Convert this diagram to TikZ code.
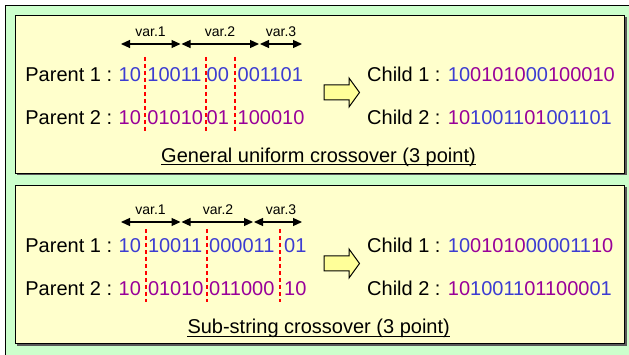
\documentclass[tikz,border=0pt]{standalone}
\usepackage{fontspec}
\setmainfont{Liberation Sans}
\usetikzlibrary{arrows.meta}
\definecolor{bgreen}{HTML}{CCFFCC}
\definecolor{byellow}{HTML}{FFFFCC}
\definecolor{arrowyellow}{HTML}{FFFF99}
\definecolor{pblue}{HTML}{3C3CD2}
\definecolor{ppurple}{HTML}{990099}
\definecolor{cutred}{HTML}{FF0000}
\begin{document}
\begin{tikzpicture}[x=1pt,y=-1pt,
  txt/.style={inner sep=0pt, anchor=base west, font=\fontsize{20}{24}\selectfont},
  bitsa/.style={txt, text=pblue},
  bitsb/.style={txt, text=ppurple},
  varlbl/.style={inner sep=0pt, anchor=base, font=\fontsize{14}{16}\selectfont},
  vararrow/.style={line width=1.2pt, {Triangle[length=9pt,width=8pt]}-{Triangle[length=9pt,width=8pt]}},
  cutline/.style={cutred, line width=2pt, dash pattern=on 4pt off 3pt},
  panel/.style={draw=black, line width=1.3pt, fill=byellow},
  panelshadow/.style={fill=black!65},
  blockarrow/.style={draw=black, line width=1pt, fill=arrowyellow, line join=miter},
  uline/.style={line width=1.2pt}]
\useasboundingbox (0,0) rectangle (629,355);
% outer background
\fill[bgreen] (5,5) rectangle (629,355);
\draw[line width=1.2pt] (5.6,355) -- (5.6,5.6) -- (629,5.6);

% ---------- top panel ----------
\fill[panelshadow] (17,17) rectangle (626.5,175.5);
\draw[panel] (15.5,15.5) rectangle (624.8,173.8);

\node[varlbl] (tv1) at (150.5,37) {var.1};
\node[varlbl] (tv2) at (220,37) {var.2};
\node[varlbl] (tv3) at (281,37) {var.3};
\coordinate (ta0) at (121,44);
\coordinate (ta1) at (180.5,44);
\coordinate (ta2) at (181.5,44);
\coordinate (ta3) at (259,44);
\coordinate (ta4) at (260,44);
\coordinate (ta5) at (302,44);
\draw[vararrow] (ta0) -- (ta1);
\draw[vararrow] (ta2) -- (ta3);
\draw[vararrow] (ta4) -- (ta5);

\node[txt] (tp1) at (25.2,81.5) {Parent 1 :};
\node[bitsa] (tp1a) at (118.5,81.5) {10};
\node[bitsa] (tp1b) at (147.2,81.5) {10011};
\node[bitsa] (tp1c) at (206.5,81.5) {00};
\node[bitsa] (tp1d) at (237.5,81.5) {001101};
\node[txt] (tp2) at (25.2,124.5) {Parent 2 :};
\node[bitsb] (tp2a) at (118.5,124.5) {10};
\node[bitsb] (tp2b) at (147.2,124.5) {01010};
\node[bitsb] (tp2c) at (206.5,124.5) {01};
\node[bitsb] (tp2d) at (237.5,124.5) {100010};

\draw[cutline] (145,57) -- (145,131);
\draw[cutline] (206,57) -- (206,131);
\draw[cutline] (235,57) -- (235,131);

\draw[blockarrow] (324,85) -- (349,85) -- (349,78) -- (359.5,92.5) -- (349,107) -- (349,100) -- (324,100) -- cycle;

\node[txt] (tc1) at (367,81.5) {Child 1 : \textcolor{pblue}{10}\textcolor{ppurple}{01010}\textcolor{pblue}{00}\textcolor{ppurple}{100010}};
\node[txt] (tc2) at (367,124.5) {Child 2 : \textcolor{ppurple}{10}\textcolor{pblue}{10011}\textcolor{ppurple}{01}\textcolor{pblue}{001101}};

\node[txt] (tt) at (161,162.5) {General uniform crossover (3 point)};
\draw[uline] ([yshift=-2pt]tt.base west) -- ([yshift=-2pt]tt.base east);

% ---------- bottom panel ----------
\fill[panelshadow] (17,187.5) rectangle (626.5,345.5);
\draw[panel] (15.5,185.8) rectangle (624.8,343.8);

\node[varlbl] (bv1) at (150.5,215) {var.1};
\node[varlbl] (bv2) at (218,215) {var.2};
\node[varlbl] (bv3) at (281,215) {var.3};
\coordinate (ba0) at (121,222);
\coordinate (ba1) at (180.5,222);
\coordinate (ba2) at (181.5,222);
\coordinate (ba3) at (253,222);
\coordinate (ba4) at (254,222);
\coordinate (ba5) at (302,222);
\draw[vararrow] (ba0) -- (ba1);
\draw[vararrow] (ba2) -- (ba3);
\draw[vararrow] (ba4) -- (ba5);

\node[txt] (bp1) at (25.2,253) {Parent 1 :};
\node[bitsa] (bp1a) at (118.5,253) {10};
\node[bitsa] (bp1b) at (147.8,253) {10011};
\node[bitsa] (bp1c) at (209,253) {000011};
\node[bitsa] (bp1d) at (284,253) {01};
\node[txt] (bp2) at (25.2,296) {Parent 2 :};
\node[bitsb] (bp2a) at (118.5,296) {10};
\node[bitsb] (bp2b) at (147.8,296) {01010};
\node[bitsb] (bp2c) at (209,296) {011000};
\node[bitsb] (bp2d) at (284,296) {10};

\draw[cutline] (145.7,229) -- (145.7,302);
\draw[cutline] (206.7,229) -- (206.7,302);
\draw[cutline] (280,229) -- (280,302);

\draw[blockarrow] (324,256) -- (349,256) -- (349,249) -- (359.5,263.5) -- (349,278) -- (349,271) -- (324,271) -- cycle;

\node[txt] (bc1) at (367,253) {Child 1 : \textcolor{pblue}{10}\textcolor{ppurple}{01010}\textcolor{pblue}{000011}\textcolor{ppurple}{10}};
\node[txt] (bc2) at (367,296) {Child 2 : \textcolor{ppurple}{10}\textcolor{pblue}{10011}\textcolor{ppurple}{011000}\textcolor{pblue}{01}};

\node[txt] (bt) at (187.3,334) {Sub-string crossover (3 point)};
\draw[uline] ([yshift=-2.5pt]bt.base west) -- ([yshift=-2.5pt]bt.base east);
\end{tikzpicture}
\end{document}
